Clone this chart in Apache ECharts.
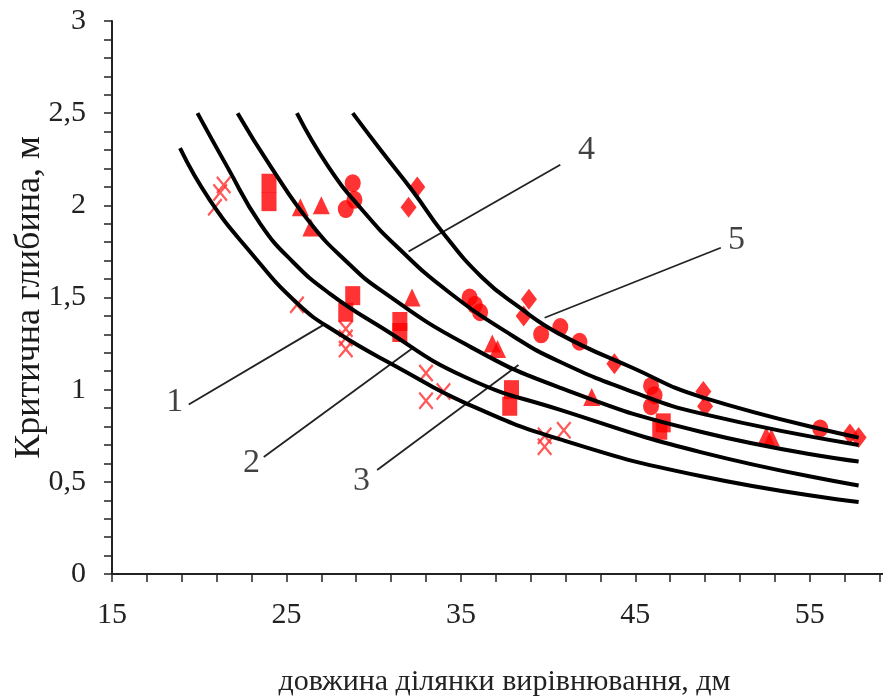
<!DOCTYPE html>
<html lang="uk">
<head>
    <meta charset="UTF-8">
    <title>Критична глибина</title>
    <script type="text/javascript" src="https://cdn.jsdelivr.net/npm/echarts@6/dist/echarts.min.js"></script>
    <style>
        html, body { margin: 0; padding: 0; background: #fff; }
    </style>
</head>
<body>
<div id="main" style="width: 883px;height:699px;"></div>
<script type="text/javascript">
    // curves 1..5
    var curve1X = [18.9, 20.6, 22.9, 25.6, 27.9, 31.6, 35.2, 40.7, 48.8, 57.8];
    var curve1Y = [2.31, 2.03, 1.75, 1.47, 1.31, 1.11, 0.93, 0.73, 0.53, 0.39];
    var curve2X = [19.9, 21.6, 23.5, 25.4, 27.5, 30.4, 35.2, 40.7, 48.8, 57.8];
    var curve2Y = [2.50, 2.21, 1.90, 1.69, 1.52, 1.34, 1.07, 0.89, 0.66, 0.48];
    var curve3X = [22.2, 24.1, 26.4, 28.5, 30.4, 35.2, 40.7, 48.8, 57.8];
    var curve3Y = [2.50, 2.21, 1.90, 1.69, 1.54, 1.25, 1.01, 0.77, 0.61];
    var curve4X = [25.6, 27.4, 29.3, 31.4, 34.3, 38.0, 40.7, 44.8, 48.8, 57.8];
    var curve4Y = [2.50, 2.21, 1.98, 1.77, 1.53, 1.29, 1.15, 0.99, 0.87, 0.70];
    var curve5X = [28.8, 30.4, 32.3, 33.9, 36.2, 38.3, 40.7, 44.8, 48.8, 57.8];
    var curve5Y = [2.50, 2.30, 2.07, 1.86, 1.61, 1.45, 1.30, 1.12, 0.96, 0.74];

    // measured points
    var crossX = [20.9, 21.2, 21.4, 25.6, 28.4, 28.4, 28.4, 33.0, 33.0, 34.0, 39.8, 39.8, 40.9];
    var crossY = [1.99, 2.07, 2.11, 1.46, 1.33, 1.28, 1.22, 1.09, 0.94, 0.99, 0.75, 0.69, 0.78];
    var squareX = [24.0, 24.0, 28.8, 28.4, 31.5, 31.5, 37.9, 37.8, 46.6, 46.4];
    var squareY = [2.12, 2.02, 1.51, 1.42, 1.37, 1.31, 1.00, 0.91, 0.82, 0.78];
    var triangleX = [25.8, 27.0, 26.4, 32.2, 36.8, 37.1, 42.5, 52.5, 52.8];
    var triangleY = [1.99, 2.00, 1.88, 1.50, 1.25, 1.22, 0.96, 0.75, 0.74];
    var circleX = [28.8, 28.9, 28.4, 35.5, 35.8, 36.1, 39.6, 40.7, 41.8, 45.9, 46.1, 45.9, 55.6];
    var circleY = [2.12, 2.03, 1.98, 1.50, 1.46, 1.42, 1.30, 1.34, 1.26, 1.02, 0.97, 0.91, 0.79];
    var diamondX = [32.5, 32.0, 38.9, 38.6, 43.8, 48.9, 49.0, 57.3, 57.8];
    var diamondY = [2.10, 1.99, 1.49, 1.40, 1.14, 0.99, 0.91, 0.76, 0.74];

    // curve numbers and leader lines
    var curveNames = ['1', '2', '3', '4', '5'];
    var nameX = [18.6, 23.0, 29.3, 42.2, 50.8];
    var nameY = [0.93, 0.60, 0.505, 2.30, 1.81];
    var leaderFrom = [[19.4, 0.92], [23.7, 0.635], [30.2, 0.564], [40.7, 2.22], [49.9, 1.77]];
    var leaderTo = [[27.1, 1.35], [32.3, 1.23], [38.3, 1.134], [32.0, 1.75], [39.8, 1.39]];

    var xLabels = [15, 25, 35, 45, 55];
    var yLabels = [0, 0.5, 1, 1.5, 2, 2.5, 3];

    function pairs(xs, ys) {
        var out = [];
        for (var i = 0; i < xs.length; i++) out.push([xs[i], ys[i]]);
        return out;
    }

    var serif = '"Liberation Serif", "DejaVu Serif", serif';
    var red = '#ff0000';
    var crossPath = 'path://M0,1L1,0L5,4L9,0L10,1L6,5L10,9L9,10L5,6L1,10L0,9L4,5Z';

    var curves = [[curve1X, curve1Y], [curve2X, curve2Y], [curve3X, curve3Y], [curve4X, curve4Y], [curve5X, curve5Y]];
    var series = [];

    function dots(xs, ys, symbol, size, color) {
        return {
            type: 'scatter', data: pairs(xs, ys), symbol: symbol, symbolSize: size,
            itemStyle: {color: color}, z: 2, silent: true
        };
    }
    series.push(dots(crossX, crossY, crossPath, [15, 18], '#ff3030'));
    series.push(dots(squareX, squareY, 'rect', [15, 19], red));
    series.push(dots(triangleX, triangleY, 'triangle', [17, 18], red));
    series.push(dots(circleX, circleY, 'circle', [16, 18], red));
    series.push(dots(diamondX, diamondY, 'diamond', [16, 21], red));

    curves.forEach(function (c) {
        series.push({
            type: 'line', data: pairs(c[0], c[1]), smooth: 0.5,
            symbol: 'none', lineStyle: {color: '#000', width: 4}, z: 5, silent: true
        });
    });

    for (var i = 0; i < leaderFrom.length; i++) {
        series.push({
            type: 'line', data: [leaderFrom[i], leaderTo[i]], symbol: 'none',
            lineStyle: {color: '#222', width: 1.8}, z: 4, silent: true
        });
    }

    var nameData = [];
    for (var j = 0; j < curveNames.length; j++) {
        nameData.push({value: [nameX[j], nameY[j]], name: curveNames[j]});
    }
    series.push({
        type: 'scatter', data: nameData, symbolSize: 0, z: 6, silent: true,
        label: {
            show: true, position: 'inside', formatter: '{b}',
            color: '#111', fontFamily: serif, fontSize: 34
        }
    });

    var myChart = echarts.init(document.getElementById('main'));
    var option = {
        backgroundColor: '#fff',
        animation: false,
        grid: {left: 112, top: 21, bottom: 125, right: -14, outerBoundsMode: 'none', containLabel: false},
        xAxis: {
            type: 'value', min: 15, max: 60, interval: 2,
            name: 'довжина ділянки вирівнювання, дм',
            nameLocation: 'middle', nameGap: 93, nameMoveOverlap: false,
            nameTextStyle: {fontFamily: serif, fontSize: 30, color: '#222'},
            axisLine: {lineStyle: {color: '#222', width: 2}},
            axisTick: {length: 8, lineStyle: {color: '#222', width: 1.5}},
            splitLine: {show: false},
            axisLabel: {
                margin: 26, fontFamily: serif, fontSize: 30, color: '#222',
                formatter: function (v) {
                    return xLabels.indexOf(Math.round(v)) >= 0 && Math.abs(v - Math.round(v)) < 1e-6 ? String(Math.round(v)) : '';
                }
            }
        },
        yAxis: {
            type: 'value', min: 0, max: 3, interval: 0.1,
            name: 'Критична глибина, м',
            nameLocation: 'middle', nameGap: 64, nameMoveOverlap: false,
            nameTextStyle: {fontFamily: serif, fontSize: 36, color: '#1a1a1a'},
            axisLine: {show: true, lineStyle: {color: '#222', width: 2}},
            axisTick: {show: true, length: 8, lineStyle: {color: '#222', width: 1.5}},
            splitLine: {show: false},
            axisLabel: {
                margin: 26, fontFamily: serif, fontSize: 30, color: '#222',
                formatter: function (v) {
                    var r = Math.round(v * 10) / 10;
                    for (var k = 0; k < yLabels.length; k++) {
                        if (Math.abs(yLabels[k] - r) < 1e-6) return String(yLabels[k]).replace('.', ',');
                    }
                    return '';
                }
            }
        },
        series: series
    };
    myChart.setOption(option);
</script>
</body>
</html>
